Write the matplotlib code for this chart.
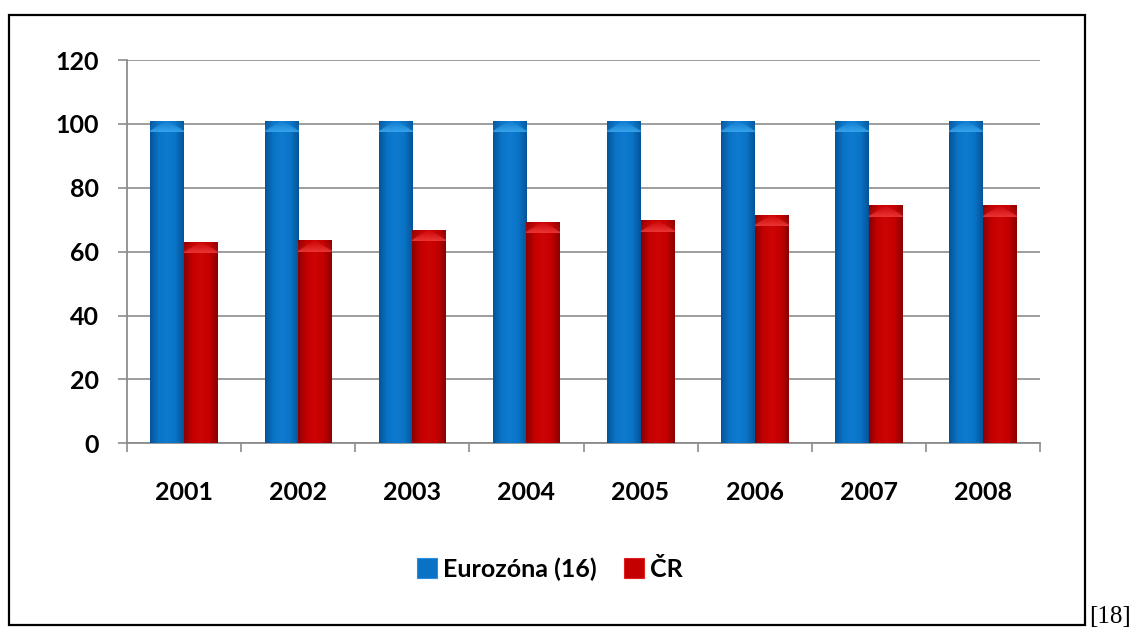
import numpy as np
import matplotlib
matplotlib.use("Agg")
import matplotlib.pyplot as plt
from matplotlib.patches import Rectangle, Patch
from matplotlib.colors import LinearSegmentedColormap, to_rgb

years = ["2001", "2002", "2003", "2004", "2005", "2006", "2007", "2008"]
eurozona = [101, 101, 101, 101, 101, 101, 101, 101]
cr = [63.1, 63.6, 66.8, 69.3, 69.9, 71.6, 74.5, 74.5]
series_names = ["Eurozóna (16)", "ČR"]
yticks = [0, 20, 40, 60, 80, 100, 120]

plt.rcParams['font.family'] = ['Lato', 'DejaVu Sans']

fig = plt.figure(figsize=(11.34, 6.30), dpi=100)
ax = fig.add_axes([127/1134, 1-443.3/630, (1040-127)/1134, (443.3-60)/630])

x = np.arange(len(years))
w = 0.295
grey = "#8c8c8c"

blue_cmap = LinearSegmentedColormap.from_list("b", ["#04549a", "#0a74c6", "#0e7ad0", "#0a74c6", "#04549a"])
red_cmap = LinearSegmentedColormap.from_list("r", ["#8c0000", "#c40000", "#cc0404", "#c40000", "#8c0000"])

b1 = ax.bar(x - w/2, eurozona, w, color="#0a72c4", zorder=3, linewidth=0)
b2 = ax.bar(x + w/2, cr, w, color="#c40000", zorder=3, linewidth=0)

grad = np.linspace(0, 1, 64).reshape(1, -1)
cap_h = 3.6
for bars, cmap, light in ((b1, blue_cmap, "#3aa8f0"), (b2, red_cmap, "#f03a3a")):
    lr = to_rgb(light)
    for p in bars:
        x0, y0 = p.get_x(), p.get_y()
        x1, y1 = x0 + p.get_width(), y0 + p.get_height()
        im = ax.imshow(grad, cmap=cmap, extent=[x0, x1, y0, y1], aspect="auto", zorder=3.5)
        im.set_clip_path(p)
        # top bevel highlight
        n = 32
        xs = np.linspace(-1, 1, n)
        ys = np.linspace(0, 1, n)
        X, Y = np.meshgrid(xs, ys)
        alpha = np.clip(1 - Y - 0.6 * np.abs(X) * (1 - Y) * 0.0, 0, 1)
        alpha = np.where(Y < 1 - np.abs(X) * 0.9, 0.9 * (1 - Y), 0.25 * (1 - Y))
        rgba = np.zeros((n, n, 4))
        rgba[..., :3] = lr
        rgba[..., 3] = alpha
        im2 = ax.imshow(rgba, extent=[x0, x1, y1, y1 - cap_h], aspect="auto", zorder=3.6,
                        origin="upper")
        im2.set_clip_path(p)

ax.set_xlim(-0.5, len(years) - 0.5)
ax.set_ylim(0, 120)
ax.set_yticks(yticks)
ax.set_yticklabels([str(t) for t in yticks])
ax.set_xticks(x)
ax.set_xticklabels(years)
ax.set_xticks(np.arange(-0.5, len(years)), minor=True)

ax.yaxis.grid(True, color=grey, linewidth=1.2, zorder=0)
ax.set_axisbelow(True)
for s in ("top", "right"):
    ax.spines[s].set_visible(False)
for s in ("left", "bottom"):
    ax.spines[s].set_color(grey)
    ax.spines[s].set_linewidth(1.3)

ax.tick_params(axis="y", length=6.5, width=1.2, color=grey, pad=14, labelsize=18)
ax.tick_params(axis="x", which="major", length=0, pad=27, labelsize=18)
ax.tick_params(axis="x", which="minor", length=6.5, width=1.2, color=grey)
for lab in ax.get_xticklabels() + ax.get_yticklabels():
    lab.set_fontweight("bold")

handles = [Patch(facecolor="#0a72c4", edgecolor="#2a8ee0", linewidth=0.8),
           Patch(facecolor="#c40000", edgecolor="#e02020", linewidth=0.8)]
fig.legend(handles, series_names, loc="center", bbox_to_anchor=(550/1134, 1-569/630),
           ncol=2, frameon=False, prop={"weight": "bold", "size": 18},
           handlelength=0.8, handleheight=0.85, handletextpad=0.25, columnspacing=1.1,
           borderpad=0, borderaxespad=0)

fig.add_artist(Rectangle((9/1134, 1-625/630), (1085-9)/1134, (625-15)/630,
                         transform=fig.transFigure, fill=False, edgecolor="black", linewidth=1.6))
fig.text(1089/1134, 1-623/630, "[18]", family="Liberation Serif", fontsize=18,
         ha="left", va="baseline")

fig.savefig("out.png", dpi=100)
